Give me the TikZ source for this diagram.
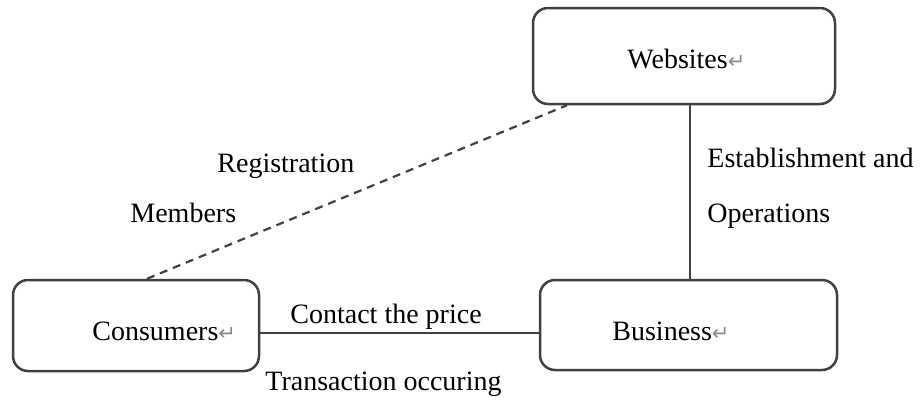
\documentclass[tikz,border=0pt]{standalone}
\usepackage{fontspec}
\setmainfont{Liberation Serif}
\newfontfamily\symfont{DejaVu Sans}
\definecolor{edge}{HTML}{404040}
\definecolor{markc}{HTML}{8A8A8A}
\newcommand{\pmark}{{\symfont\fontsize{10.5}{12}\selectfont\color{markc}↵}}
\begin{document}
\begin{tikzpicture}[x=0.5pt,y=-0.5pt,
  boxnode/.style={draw=edge,line width=1.25pt,rounded corners=7.5pt,inner sep=0pt},
  lbl/.style={anchor=base west,inner sep=0pt,font=\fontsize{14}{16}\selectfont},
  link/.style={draw=edge,line width=1.1pt},
  dlink/.style={draw=edge,line width=1.1pt,dash pattern=on 4pt off 3pt}]
\useasboundingbox (0,0) rectangle (923,402);
% boxes
\node[boxnode,minimum width=151pt,minimum height=48pt] (web) at (684,56) {};
\node[boxnode,minimum width=123pt,minimum height=45.5pt] (con) at (136,325.5) {};
\node[boxnode,minimum width=148.5pt,minimum height=45pt] (bus) at (688.5,325) {};
% box texts
\node[lbl] (webt) at (627,68) {Websites\pmark};
\node[lbl] (cont) at (92,340) {Consumers\pmark};
\node[lbl] (bust) at (612,340) {Business\pmark};
% connector end points
\coordinate (vx) at (690,0);
\coordinate (hy) at (0,333);
\coordinate (dtop) at (567,0);
\coordinate (dbot) at (147,0);
\draw[link] (web.south -| vx) -- (bus.north -| vx);
\draw[link] (con.east |- hy) -- (bus.west |- hy);
\draw[dlink] (con.north -| dbot) -- (web.south -| dtop);
% connector labels
\node[lbl] (reg) at (217,172) {Registration};
\node[lbl] (mem) at (130,222) {Members};
\node[lbl] (est) at (707,167) {Establishment and};
\node[lbl] (ops) at (707,222) {Operations};
\node[lbl] (cp) at (290,323) {Contact the price};
\node[lbl] (tr) at (265,390) {Transaction occuring};
\end{tikzpicture}
\end{document}
